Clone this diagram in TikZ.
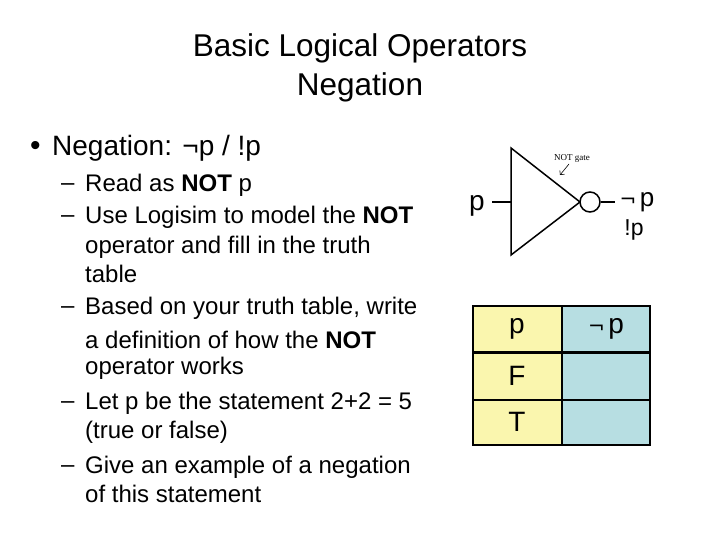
\documentclass[tikz,border=0pt]{standalone}
\usepackage{fontspec}
\usetikzlibrary{arrows.meta}
\setmainfont{Liberation Sans}
\newfontfamily\djv{DejaVu Sans}
\begin{document}
\begin{tikzpicture}[x=1pt,y=-1pt,
  ttl/.style={font=\fontsize{31.5}{36}\selectfont,anchor=center},
  lvl/.style={font=\fontsize{28}{32}\selectfont,anchor=west,inner sep=0},
  sub/.style={font=\fontsize{24}{28}\selectfont,anchor=west,inner sep=0},
  cell/.style={draw=black,line width=2pt},
  big/.style={font=\fontsize{28}{32}\selectfont}]
\useasboundingbox (0,0) rectangle (720,540);
\node[ttl] (t1) at (360,48) {Basic Logical Operators};
\node[ttl] (t2) at (360,87) {Negation};
\node[lvl,font=\fontsize{30}{32}\selectfont] (bul) at (30,148) {•};
\node[lvl] (b0) at (52,148) {Negation: ¬p / !p};
\foreach \y/\d/\t in {
 185/1/{Read as \textbf{NOT} p},
 217/1/{Use Logisim to model the \textbf{NOT}},
 247/0/{operator and fill in the truth},
 274/0/{table},
 308/1/{Based on your truth table, write},
 340/0/{a definition of how the \textbf{NOT}},
 368/0/{operator works},
 403/1/{Let p be the statement 2+2 = 5},
 432/0/{(true or false)},
 467/1/{Give an example of a negation},
 494/0/{of this statement}}{
  \ifnum\d=1 \node[sub] at (61,\y+2) {–}; \fi
  \node[sub] at (85,\y) {\t};
}
% gate
\coordinate (tl) at (511,148); \coordinate (bl) at (511,255); \coordinate (tip) at (580,202);
\draw[line width=1.5pt,line join=miter] (tl) -- (tip) -- (bl) -- cycle;
\node[draw,circle,line width=1.5pt,minimum size=20pt,inner sep=0] (bub) at (590,202) {};
\coordinate (in0) at (492,202); \coordinate (in1) at (511,202); \coordinate (out1) at (615,202);
\draw[line width=1.5pt] (in0) -- (in1);
\draw[line width=1.5pt] (bub.east) -- (out1);
\node[big] (pin) at (477,206) {p};
\node[big] (pout) at (637,202) {\djv\fontsize{20}{22}\selectfont¬\,\fontspec{Liberation Sans}\fontsize{26}{28}\selectfont p};
\node[font=\fontsize{23}{26}\selectfont] (pbang) at (634,230) {!p};
\node[font=\fontsize{9}{10}\selectfont\fontspec{Liberation Serif}] (ng) at (572,158) {NOT gate};
\coordinate (a1) at (569,164); \coordinate (a2) at (560,175);
\draw[line width=0.6pt,-{Straight Barb[length=3pt]}] (a1) -- (a2);
% table
\fill[fill={rgb,255:red,250;green,246;blue,174}] (473,306) rectangle (562,445);
\fill[fill={rgb,255:red,183;green,222;blue,226}] (562,306) rectangle (650,445);
\draw[cell] (473,306) rectangle (650,445);
\draw[cell] (562,306) -- (562,445);
\draw[line width=3pt] (473,352) -- (650,352);
\draw[cell] (473,400) -- (650,400);
\node[big] (hp) at (517,329) {p};
\node[big] (hn) at (606,329) {\djv\fontsize{20}{22}\selectfont¬\,\fontspec{Liberation Sans}\fontsize{28}{28}\selectfont p};
\node[big] (cf) at (517,376) {F};
\node[big] (ct) at (517,422) {T};
\end{tikzpicture}
\end{document}
